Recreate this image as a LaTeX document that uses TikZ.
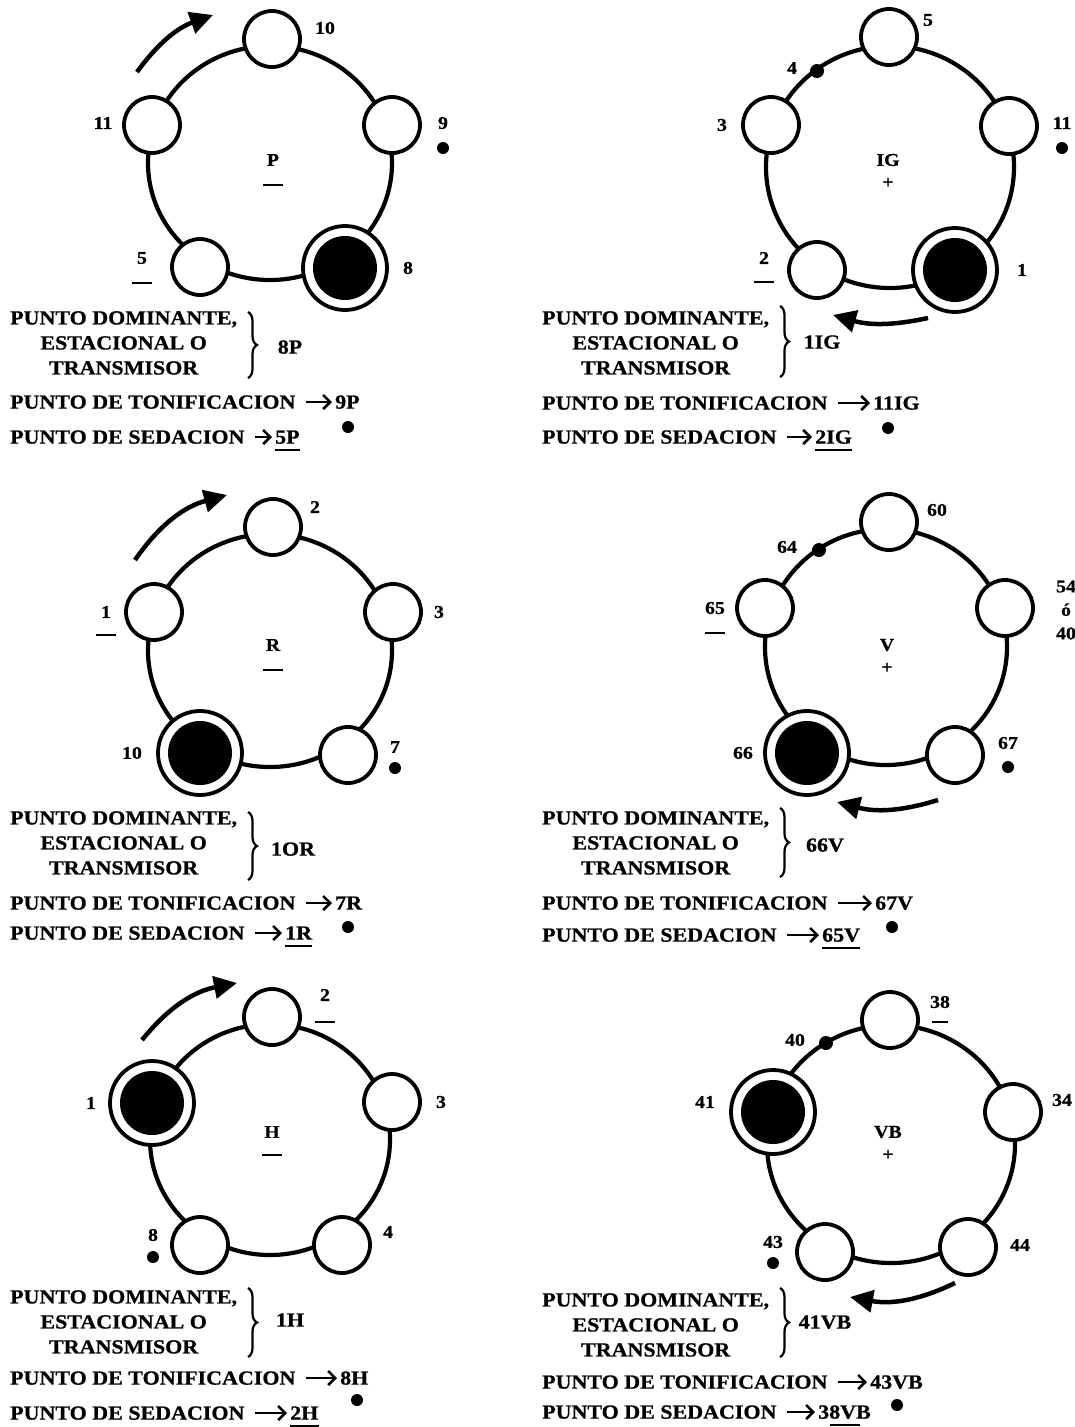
\documentclass[tikz,border=0pt]{standalone}
\usepackage{fontspec}
\setmainfont{Liberation Serif}[FakeStretch=1.10,BoldFeatures={FakeBold=0.8}]
\usetikzlibrary{arrows.meta,decorations.pathreplacing,calc}
\tikzset{
  ring/.style={line width=4.2pt},
  pt/.style={circle,draw,line width=3.8pt,fill=white,minimum size=56pt,inner sep=0pt},
  bigpt/.style={circle,draw,line width=3.8pt,fill=white,minimum size=84pt,inner sep=0pt,
    path picture={\fill[black] (path picture bounding box.center) circle[radius=32pt];}},
  num/.style={font=\fontsize{18}{20}\selectfont\bfseries,inner sep=0pt},
  txt/.style={font=\fontsize{20}{25}\selectfont\bfseries,inner sep=0pt,text height=13.2pt,text depth=0pt},
  blk/.style={font=\fontsize{20}{25}\selectfont\bfseries,inner sep=0pt,align=center,anchor=north west},
  dot/.style={circle,fill=black,inner sep=0pt,minimum size=12pt},
  rdot/.style={circle,fill=black,inner sep=0pt,minimum size=14pt},
  bar/.style={line width=2.5pt},
  flow/.style={line width=4.5pt,-{Triangle[length=23pt,width=22pt]}},
  tarr/.style={line width=2.6pt,-{Straight Barb[length=7pt,width=14pt]},shorten <=10pt,shorten >=3pt},
  brc/.style={decorate,decoration={brace,amplitude=9pt},line width=2.2pt},
}
\begin{document}
\begin{tikzpicture}[x=1pt,y=-1pt]
\useasboundingbox (0,0) rectangle (1075,1427);
\fill[white] (0,0) rectangle (1075,1427);

% ================= Panel 1 : P =================
\draw[ring] (270,163) ellipse [x radius=122, y radius=117];
\node[pt] (p1a) at (272,39) {};
\node[pt] (p1b) at (152,125) {};
\node[pt] (p1c) at (392,125) {};
\node[pt] (p1d) at (200,267) {};
\node[bigpt] (p1e) at (345,268) {};
\node[num] (p1la) at (325,28) {10};
\node[num] (p1lb) at (103,123) {11};
\node[num] (p1lc) at (443,123) {9};
\node[dot] (p1dc) at (443,148) {};
\node[num] (p1ld) at (142,258) {5};
\draw[bar] (132,283) -- (152,283);
\node[num] (p1le) at (408,268) {8};
\node[num] (p1n) at (273,160) {P};
\draw[bar] (263,185) -- (283,185);
\coordinate (p1f1) at (137,72); \coordinate (p1f2) at (213,15);
\draw[flow] (p1f1) to[bend left=17] (p1f2);
\node[blk] (p1dom) at (10,311) {PUNTO DOMINANTE,\\ESTACIONAL O\\TRANSMISOR};
\draw[brc] (248,312) -- (248,378);
\node[txt] (p1domv) at (290,347) {8P};
\node[txt,anchor=west] (p1t) at (10,402) {PUNTO DE TONIFICACION};
\node[txt,anchor=west] (p1tv) at (335,402) {9P};
\draw[tarr] (p1t) -- (p1tv);
\node[txt,anchor=west] (p1s) at (10,437) {PUNTO DE SEDACION};
\node[txt,anchor=west] (p1sv) at (275,437) {5P};
\draw[tarr] (p1s) -- (p1sv);
\draw[bar] ($(p1sv.south west)+(0,6)$) -- ($(p1sv.south east)+(0,6)$);
\node[dot] (p1ds) at (348,427) {};

% ================= Panel 2 : IG =================
\draw[ring] (890,167) ellipse [x radius=124, y radius=121];
\node[pt] (p2a) at (889,37) {};
\node[pt] (p2b) at (771,125) {};
\node[pt] (p2c) at (1009,126) {};
\node[pt] (p2d) at (817,270) {};
\node[bigpt] (p2e) at (955,270) {};
\node[rdot] (p2r) at (817,71) {};
\node[num] (p2lr) at (792,68) {4};
\node[num] (p2la) at (928,20) {5};
\node[num] (p2lb) at (722,125) {3};
\node[num] (p2lc) at (1062,123) {11};
\node[dot] (p2dc) at (1062,148) {};
\node[num] (p2ld) at (764,258) {2};
\draw[bar] (754,282) -- (774,282);
\node[num] (p2le) at (1022,270) {1};
\node[num] (p2n) at (888,160) {IG};
\node[num] (p2np) at (888,183) {+};
\coordinate (p2f1) at (928,318); \coordinate (p2f2) at (833,315);
\draw[flow] (p2f1) to[bend left=14] (p2f2);
\node[blk] (p2dom) at (542,311) {PUNTO DOMINANTE,\\ESTACIONAL O\\TRANSMISOR};
\draw[brc] (780,306) -- (780,377);
\node[txt] (p2domv) at (822,342) {1IG};
\node[txt,anchor=west] (p2t) at (542,403) {PUNTO DE TONIFICACION};
\node[txt,anchor=west] (p2tv) at (873,403) {11IG};
\draw[tarr] (p2t) -- (p2tv);
\node[txt,anchor=west] (p2s) at (542,437) {PUNTO DE SEDACION};
\node[txt,anchor=west] (p2sv) at (815,437) {2IG};
\draw[tarr] (p2s) -- (p2sv);
\draw[bar] ($(p2sv.south west)+(0,6)$) -- ($(p2sv.south east)+(0,6)$);
\node[dot] (p2ds) at (888,428) {};

% ================= Panel 3 : R =================
\draw[ring] (270,650.5) ellipse [x radius=122, y radius=116.5];
\node[pt] (p3a) at (273,527) {};
\node[pt] (p3b) at (154,612) {};
\node[pt] (p3c) at (393,612) {};
\node[bigpt] (p3d) at (200,753) {};
\node[pt] (p3e) at (348,755) {};
\node[num] (p3la) at (315,507) {2};
\node[num] (p3lb) at (106,612) {1};
\draw[bar] (96,635) -- (116,635);
\node[num] (p3lc) at (439,612) {3};
\node[num] (p3ld) at (132,753) {10};
\node[num] (p3le) at (395,747) {7};
\node[dot] (p3de) at (395,768) {};
\node[num] (p3n) at (273,645) {R};
\draw[bar] (263,670) -- (283,670);
\coordinate (p3f1) at (135,560); \coordinate (p3f2) at (227,495);
\draw[flow] (p3f1) to[bend left=20] (p3f2);
\node[blk] (p3dom) at (10,811) {PUNTO DOMINANTE,\\ESTACIONAL O\\TRANSMISOR};
\draw[brc] (248,812) -- (248,880);
\node[txt] (p3domv) at (293,849) {1OR};
\node[txt,anchor=west] (p3t) at (10,903) {PUNTO DE TONIFICACION};
\node[txt,anchor=west] (p3tv) at (335,903) {7R};
\draw[tarr] (p3t) -- (p3tv);
\node[txt,anchor=west] (p3s) at (10,933) {PUNTO DE SEDACION};
\node[txt,anchor=west] (p3sv) at (285,933) {1R};
\draw[tarr] (p3s) -- (p3sv);
\draw[bar] ($(p3sv.south west)+(0,6)$) -- ($(p3sv.south east)+(0,6)$);
\node[dot] (p3ds) at (348,927) {};

% ================= Panel 4 : V =================
\draw[ring] (886,647) ellipse [x radius=121, y radius=118];
\node[pt] (p4a) at (889,522) {};
\node[pt] (p4b) at (765,608) {};
\node[pt] (p4c) at (1005,608) {};
\node[bigpt] (p4d) at (807,753) {};
\node[pt] (p4e) at (955,755) {};
\node[rdot] (p4r) at (819,550) {};
\node[num] (p4lr) at (787,547) {64};
\node[num] (p4la) at (937,510) {60};
\node[num] (p4lb) at (715,608) {65};
\draw[bar] (705,633) -- (725,633);
\node[num,align=center,font=\fontsize{18}{23.5}\selectfont\bfseries] (p4lc) at (1066,610) {54\\ó\\40};
\node[num] (p4ld) at (743,753) {66};
\node[num] (p4le) at (1008,743) {67};
\node[dot] (p4de) at (1008,767) {};
\node[num] (p4n) at (887,645) {V};
\node[num] (p4np) at (887,668) {+};
\coordinate (p4f1) at (938,800); \coordinate (p4f2) at (837,802);
\draw[flow] (p4f1) to[bend left=16] (p4f2);
\node[blk] (p4dom) at (542,811) {PUNTO DOMINANTE,\\ESTACIONAL O\\TRANSMISOR};
\draw[brc] (780,808) -- (780,877);
\node[txt] (p4domv) at (825,845) {66V};
\node[txt,anchor=west] (p4t) at (542,903) {PUNTO DE TONIFICACION};
\node[txt,anchor=west] (p4tv) at (875,903) {67V};
\draw[tarr] (p4t) -- (p4tv);
\node[txt,anchor=west] (p4s) at (542,935) {PUNTO DE SEDACION};
\node[txt,anchor=west] (p4sv) at (822,935) {65V};
\draw[tarr] (p4s) -- (p4sv);
\draw[bar] ($(p4sv.south west)+(0,6)$) -- ($(p4sv.south east)+(0,6)$);
\node[dot] (p4ds) at (892,927) {};

% ================= Panel 5 : H =================
\draw[ring] (270,1139.6) ellipse [x radius=120, y radius=115.4];
\node[pt] (p5a) at (272,1017) {};
\node[bigpt] (p5b) at (152,1103) {};
\node[pt] (p5c) at (392,1102) {};
\node[pt] (p5d) at (200,1245) {};
\node[pt] (p5e) at (342,1245) {};
\node[num] (p5la) at (325,995) {2};
\draw[bar] (315,1022) -- (335,1022);
\node[num] (p5lb) at (91,1103) {1};
\node[num] (p5lc) at (441,1102) {3};
\node[num] (p5ld) at (153,1235) {8};
\node[dot] (p5dd) at (153,1257) {};
\node[num] (p5le) at (388,1232) {4};
\node[num] (p5n) at (272,1132) {H};
\draw[bar] (262,1155) -- (282,1155);
\coordinate (p5f1) at (142,1040); \coordinate (p5f2) at (237,983);
\draw[flow] (p5f1) to[bend left=20] (p5f2);
\node[blk] (p5dom) at (10,1290) {PUNTO DOMINANTE,\\ESTACIONAL O\\TRANSMISOR};
\draw[brc] (248,1288) -- (248,1357);
\node[txt] (p5domv) at (290,1320) {1H};
\node[txt,anchor=west] (p5t) at (10,1378) {PUNTO DE TONIFICACION};
\node[txt,anchor=west] (p5tv) at (340,1378) {8H};
\draw[tarr] (p5t) -- (p5tv);
\node[txt,anchor=west] (p5s) at (10,1413) {PUNTO DE SEDACION};
\node[txt,anchor=west] (p5sv) at (290,1413) {2H};
\draw[tarr] (p5s) -- (p5sv);
\draw[bar] ($(p5sv.south west)+(0,6)$) -- ($(p5sv.south east)+(0,6)$);
\node[dot] (p5ds) at (357,1400) {};

% ================= Panel 6 : VB =================
\draw[ring] (891,1144) ellipse [x radius=124, y radius=119];
\node[pt] (p6a) at (890,1020) {};
\node[bigpt] (p6b) at (773,1112) {};
\node[pt] (p6c) at (1013,1112) {};
\node[pt] (p6d) at (825,1252) {};
\node[pt] (p6e) at (968,1247) {};
\node[rdot] (p6r) at (826,1043) {};
\node[num] (p6lr) at (795,1040) {40};
\node[num] (p6la) at (940,1002) {38};
\draw[line width=1.8pt] (932,1022) -- (948,1022);
\node[num] (p6lb) at (705,1102) {41};
\node[num] (p6lc) at (1062,1100) {34};
\node[num] (p6ld) at (773,1242) {43};
\node[dot] (p6dd) at (773,1263) {};
\node[num] (p6le) at (1020,1245) {44};
\node[num] (p6n) at (888,1132) {VB};
\node[num] (p6np) at (888,1155) {+};
\coordinate (p6f1) at (955,1283); \coordinate (p6f2) at (850,1297);
\draw[flow] (p6f1) to[bend left=18] (p6f2);
\node[blk] (p6dom) at (542,1293) {PUNTO DOMINANTE,\\ESTACIONAL O\\TRANSMISOR};
\draw[brc] (780,1288) -- (780,1357);
\node[txt] (p6domv) at (825,1322) {41VB};
\node[txt,anchor=west] (p6t) at (542,1382) {PUNTO DE TONIFICACION};
\node[txt,anchor=west] (p6tv) at (870,1382) {43VB};
\draw[tarr] (p6t) -- (p6tv);
\node[txt,anchor=west] (p6s) at (542,1412) {PUNTO DE SEDACION};
\node[txt,anchor=west] (p6sv) at (818,1412) {38VB};
\draw[tarr] (p6s) -- (p6sv);
\draw[bar] ($(p6sv.south west)!0.22!(p6sv.south east)+(0,6)$) -- ($(p6sv.south west)!0.8!(p6sv.south east)+(0,6)$);
\node[dot] (p6ds) at (897,1405) {};
\end{tikzpicture}
\end{document}
